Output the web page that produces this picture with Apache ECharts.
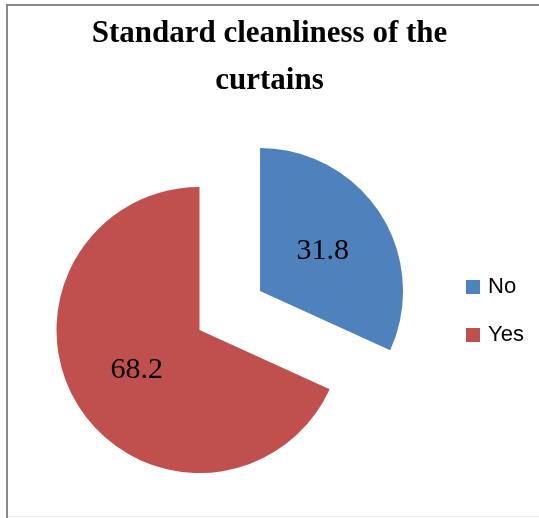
<!DOCTYPE html>
<html>
<head>
<meta charset="utf-8">
<script src="https://cdn.jsdelivr.net/npm/echarts@6/dist/echarts.min.js"></script>
<style>
html,body{margin:0;padding:0;background:#fff;}
#c{width:539px;height:518px;}
</style>
</head>
<body>
<div id="c"></div>
<script>
const titleText = 'Standard cleanliness of the\ncurtains';
const categories = ['No', 'Yes'];
const values = [31.8, 68.2];
const colors = ['#4F81BD', '#C0504D'];

const chart = echarts.init(document.getElementById('c'), null, {renderer: 'canvas'});
chart.setOption({
  animation: false,
  backgroundColor: '#fff',
  title: {
    text: titleText,
    left: 'center',
    top: 5,
    textStyle: {
      fontFamily: '"Liberation Serif", "Times New Roman", serif',
      fontWeight: 'bold',
      fontSize: 31,
      lineHeight: 47,
      color: '#000'
    }
  },
  legend: {
    orient: 'vertical',
    left: 461,
    top: 271,
    itemWidth: 14,
    itemHeight: 14,
    itemGap: 26,
    icon: 'rect',
    selectedMode: false,
    data: categories,
    textStyle: {
      fontFamily: '"Liberation Sans", Arial, sans-serif',
      fontSize: 22,
      color: '#000',
      padding: [0, 0, 0, 3]
    }
  },
  graphic: [
    {type: 'rect', shape: {x: 6, y: 4, width: 2, height: 514}, style: {fill: '#8a8a8a'}},
    {type: 'rect', shape: {x: 6, y: 4, width: 533, height: 2}, style: {fill: '#8a8a8a'}},
    {type: 'rect', shape: {x: 8, y: 516, width: 531, height: 1}, style: {fill: '#eeeeee'}}
  ],
  series: [{
    type: 'pie',
    center: [199.5, 330],
    radius: 143,
    startAngle: 90,
    clockwise: true,
    selectedMode: 'multiple',
    selectedOffset: 72,
    silent: true,
    label: {
      show: true,
      position: 'inside',
      formatter: '{c}',
      fontFamily: '"Liberation Serif", "Times New Roman", serif',
      fontSize: 30,
      color: '#000',
      padding: [10, 0, 0, 0]
    },
    labelLine: {show: false},
    emphasis: {disabled: true},
    data: categories.map((c, i) => ({
      name: c,
      value: values[i],
      selected: i === 0,
      itemStyle: {color: colors[i]}
    }))
  }]
});
</script>
</body>
</html>
